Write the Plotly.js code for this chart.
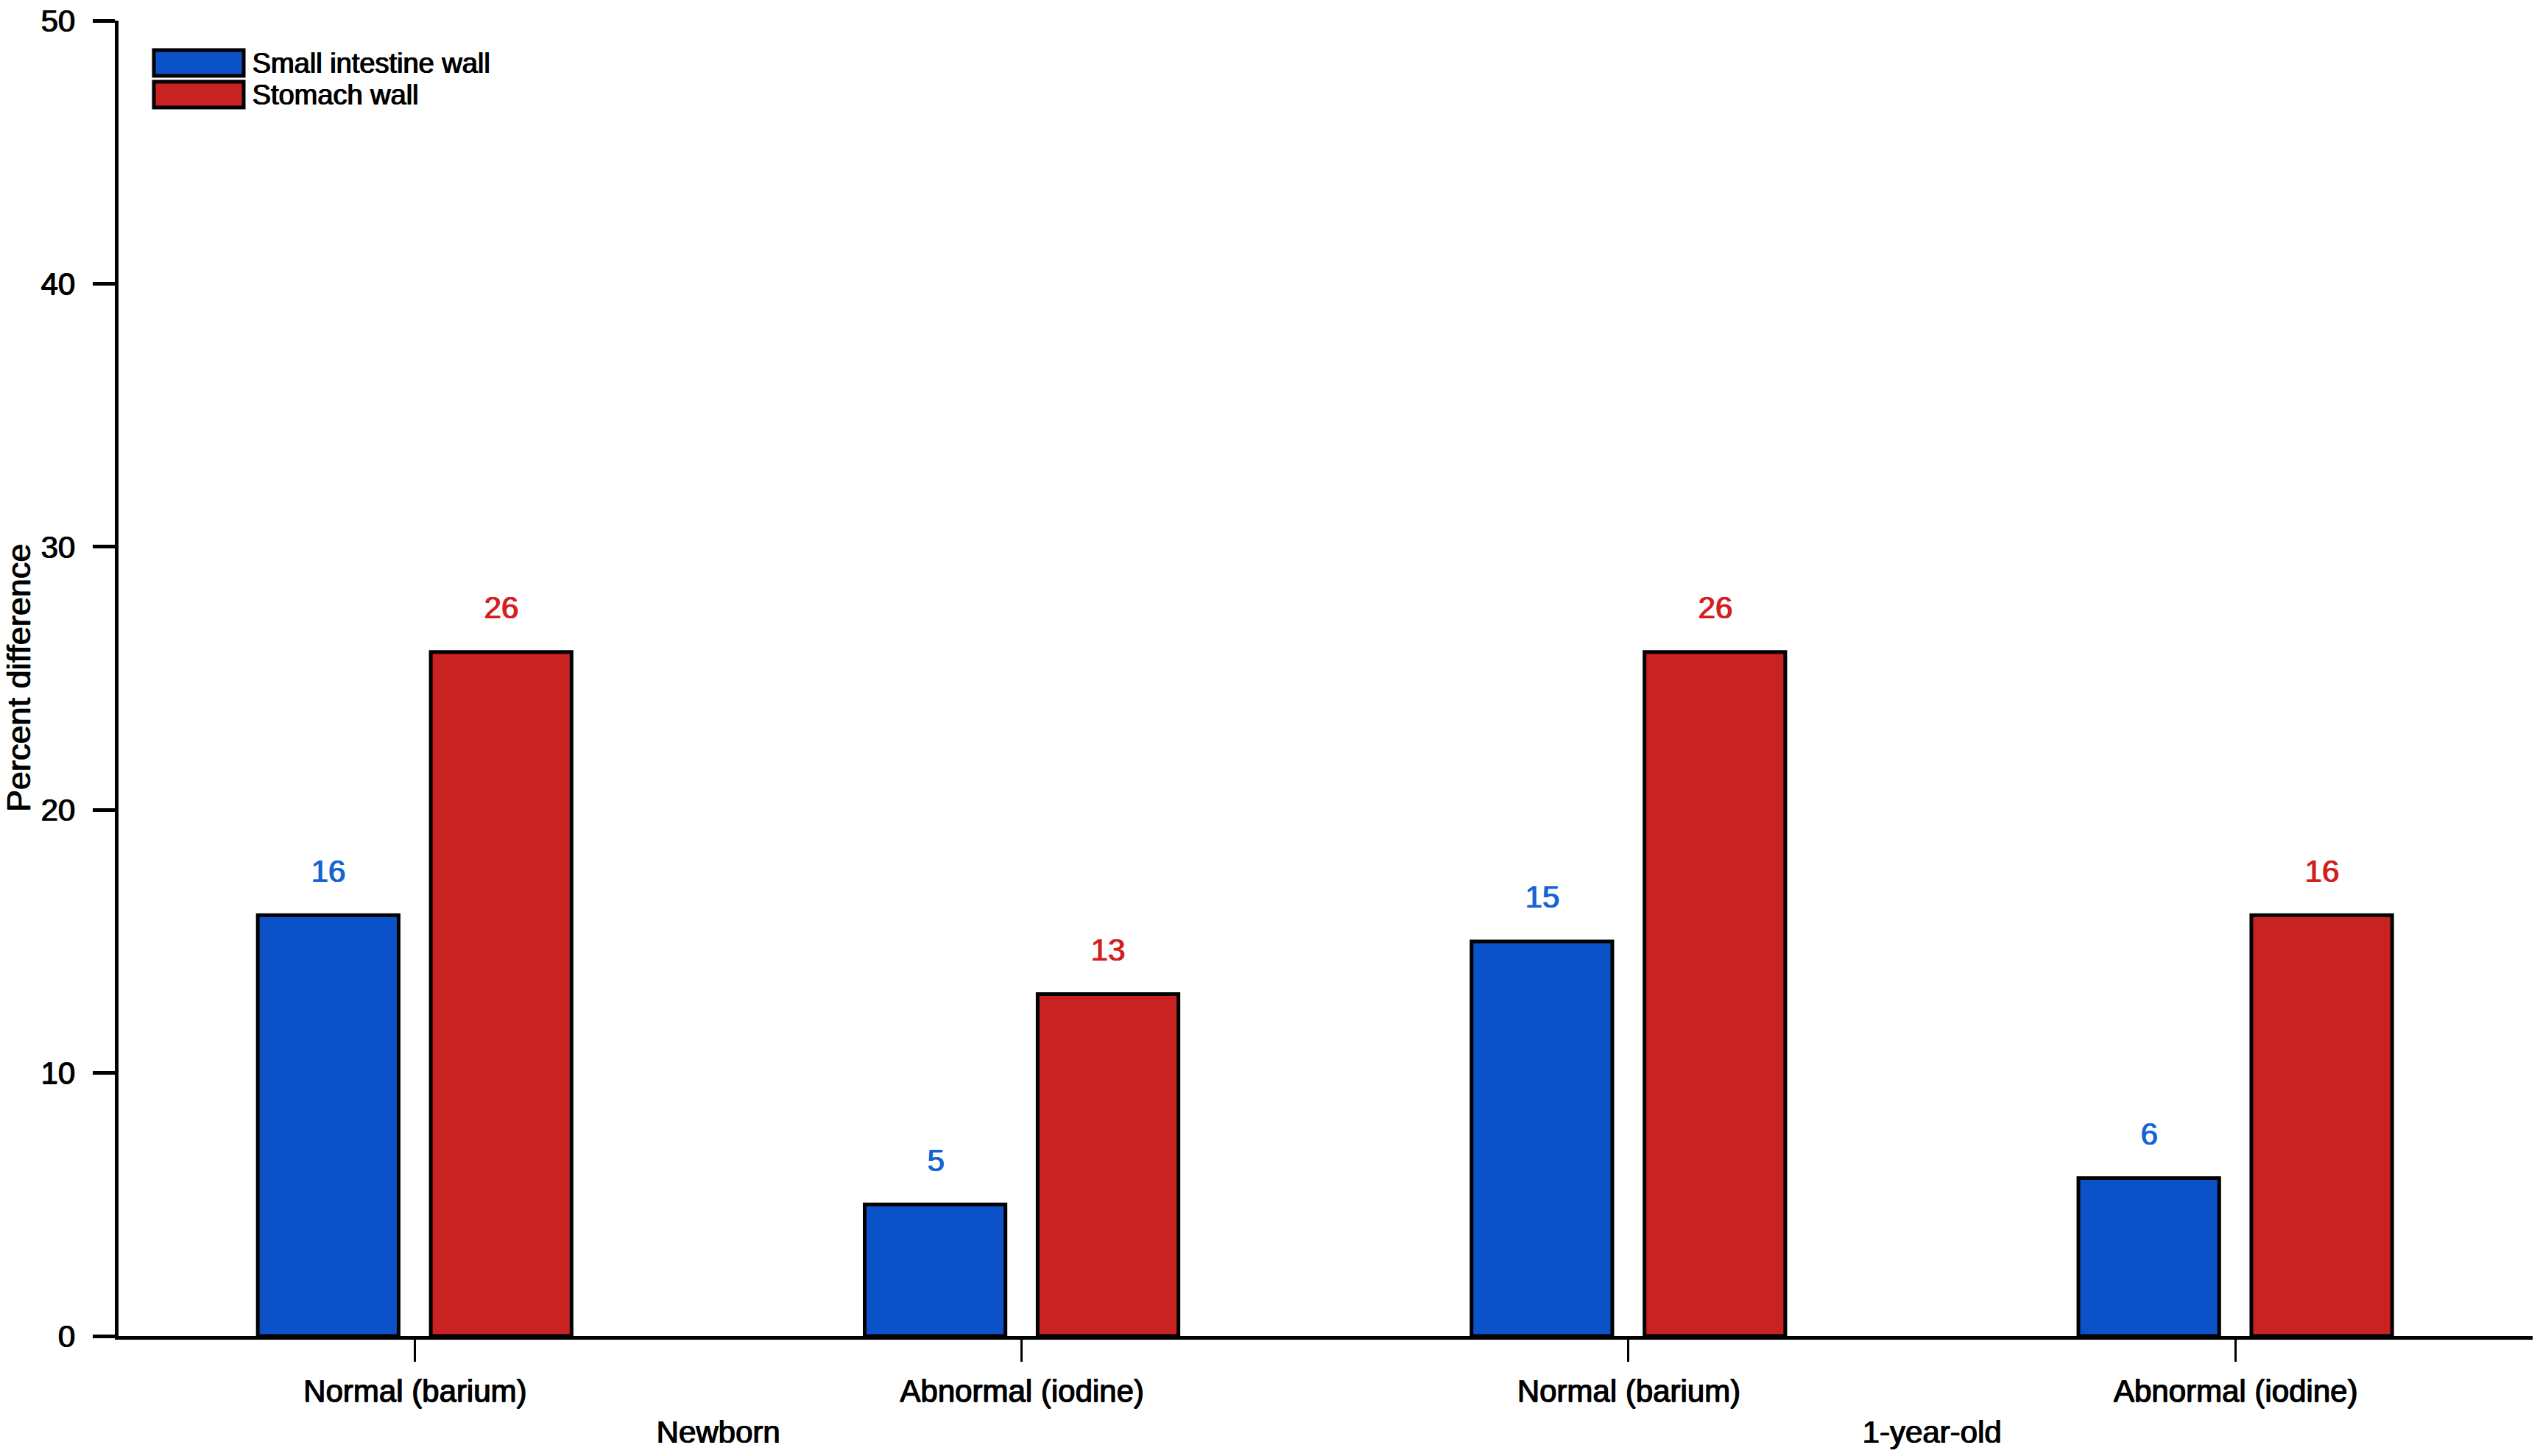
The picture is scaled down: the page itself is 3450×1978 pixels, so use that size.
<!DOCTYPE html>
<html>
<head>
<meta charset="utf-8">
<script src="https://cdn.plot.ly/plotly-3.0.1.min.js"></script>
<style>html,body{margin:0;padding:0;background:#fff;}#chart{width:3450px;height:1978px;}</style>
</head>
<body>
<div id="chart"></div>
<script>
// Data
const categories = ["Normal (barium)", "Abnormal (iodine)", "Normal (barium) ", "Abnormal (iodine) "];
const groups = ["Newborn", "1-year-old"];
const seriesNames = ["Small intestine wall", "Stomach wall"];
const smallIntestine = [16, 5, 15, 6];
const stomach = [26, 13, 26, 16];
const yTicks = [0, 10, 20, 30, 40, 50];

const blue = "#0b52c9", red = "#c82222";
const blueText = "#1464d6", redText = "#d41f1f";
const FONT = "Liberation Sans, Arial, sans-serif";
const f = (size, color) => ({family: FONT, size: size, color: color,
  shadow: "1.3px 0 0 " + color + ", 0.6px 0.4px 0 " + color});

const idx = categories.map((_, i) => i);
const traces = [
  {type: "bar", name: seriesNames[0], x: idx, y: smallIntestine,
   marker: {color: blue, line: {color: "#000", width: 5}}, showlegend: false, hoverinfo: "skip"},
  {type: "bar", name: seriesNames[1], x: idx, y: stomach,
   marker: {color: red, line: {color: "#000", width: 5}}, showlegend: false, hoverinfo: "skip"}
];

const off = 0.1425;
const annotations = [];
smallIntestine.forEach((v, i) => annotations.push({x: i - off, y: v, xref: "x", yref: "y", text: String(v),
  showarrow: false, yshift: 60, yanchor: "middle", font: f(42, blueText)}));
stomach.forEach((v, i) => annotations.push({x: i + off, y: v, xref: "x", yref: "y", text: String(v),
  showarrow: false, yshift: 60, yanchor: "middle", font: f(42, redText)}));
groups.forEach((g, k) => annotations.push({x: 2 * k + 0.5, y: 0, xref: "x", yref: "y", text: g,
  showarrow: false, yshift: -130, yanchor: "middle", font: f(42, "#000")}));

// Legend (drawn as shapes + text)
const shapes = [];
const legColors = [blue, red];
const legY = [[68, 103], [111, 146]];
const H = 1978, mt = 28, mb = 163, W = 3450, ml = 161, mr = 10;
const ph = H - mt - mb, pw = W - ml - mr;
const px = v => (v - ml) / pw;
const py = v => 1 - (v - mt) / ph;
seriesNames.forEach((n, k) => {
  shapes.push({type: "rect", xref: "paper", yref: "paper", x0: px(209), x1: px(331),
    y0: py(legY[k][1]), y1: py(legY[k][0]), fillcolor: legColors[k], line: {color: "#000", width: 5}});
  annotations.push({xref: "paper", yref: "paper", x: px(340), y: py((legY[k][0] + legY[k][1]) / 2),
    xanchor: "left", yanchor: "middle", text: n, showarrow: false, font: f(38, "#000")});
});

const layout = {
  width: W, height: H,
  margin: {l: ml, r: mr, t: mt, b: mb, pad: 0},
  paper_bgcolor: "#fff", plot_bgcolor: "#fff",
  font: {family: FONT, size: 42, color: "#000"},
  barmode: "group", bargap: 0.43, bargroupgap: 0.186,
  showlegend: false,
  xaxis: {
    tickmode: "array", tickvals: idx, ticktext: categories.map(s => s.trim()),
    range: [-0.488, 3.49], showgrid: false, zeroline: false,
    showline: true, linecolor: "#000", linewidth: 5,
    ticks: "outside", ticklen: 30, tickwidth: 3, tickcolor: "#000",
    ticklabelstandoff: 4, tickfont: f(42, "#000")
  },
  yaxis: {
    range: [0, 50], tickmode: "array", tickvals: yTicks, ticktext: yTicks.map(String),
    showgrid: false, zeroline: false,
    showline: true, linecolor: "#000", linewidth: 5,
    ticks: "outside", ticklen: 30, tickwidth: 5, tickcolor: "#000",
    ticklabelstandoff: 16, tickfont: f(42, "#000"),
    title: {text: "Percent difference", font: f(45, "#000"), standoff: 12}
  },
  annotations: annotations,
  shapes: shapes
};

Plotly.newPlot("chart", traces, layout, {displayModeBar: false, staticPlot: true});
</script>
</body>
</html>
